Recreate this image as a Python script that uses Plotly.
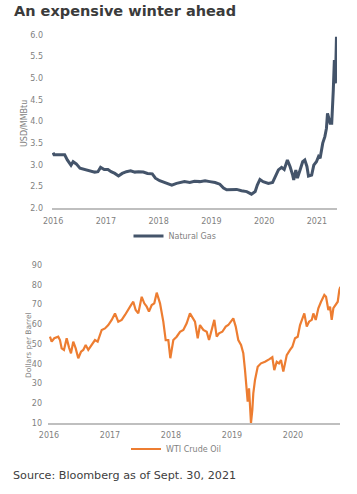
import plotly.graph_objects as go

# ---- Natural gas (USD/MMBtu), x in decimal years as placed on the chart ----
ng_x = [2016.00, 2016.02, 2016.10, 2016.22, 2016.27, 2016.34, 2016.38, 2016.44, 2016.51,
        2016.60, 2016.70, 2016.79, 2016.85, 2016.90, 2016.97, 2017.04, 2017.10, 2017.17,
        2017.24, 2017.31, 2017.39, 2017.47, 2017.55, 2017.62, 2017.71, 2017.79, 2017.88,
        2017.94, 2018.02, 2018.12, 2018.19, 2018.25, 2018.34, 2018.43, 2018.49, 2018.59,
        2018.68, 2018.78, 2018.88, 2018.97, 2019.07, 2019.16, 2019.23, 2019.29, 2019.38,
        2019.48, 2019.57, 2019.67, 2019.76, 2019.83, 2019.87, 2019.92, 2019.98, 2020.08,
        2020.16, 2020.21, 2020.27, 2020.33, 2020.38, 2020.44, 2020.49, 2020.54, 2020.56,
        2020.60, 2020.63, 2020.68, 2020.73, 2020.77, 2020.81, 2020.84, 2020.90, 2020.94,
        2020.99, 2021.03, 2021.06, 2021.11, 2021.15, 2021.18, 2021.20, 2021.25, 2021.28,
        2021.31, 2021.33, 2021.35, 2021.37]
ng_y = [3.28, 3.23, 3.23, 3.23, 3.11, 2.99, 3.07, 3.02, 2.92,
        2.89, 2.86, 2.83, 2.84, 2.94, 2.89, 2.89, 2.84, 2.80,
        2.74, 2.80, 2.84, 2.86, 2.83, 2.84, 2.83, 2.80, 2.79,
        2.69, 2.63, 2.59, 2.55, 2.53, 2.57, 2.59, 2.61, 2.59,
        2.62, 2.61, 2.63, 2.61, 2.59, 2.55, 2.46, 2.42, 2.42,
        2.43, 2.40, 2.38, 2.32, 2.38, 2.53, 2.66, 2.61, 2.57,
        2.59, 2.72, 2.88, 2.94, 2.89, 3.11, 2.96, 2.76, 2.65,
        2.88, 2.69, 2.88, 3.07, 3.11, 2.96, 2.74, 2.76, 2.99,
        3.07, 3.19, 3.15, 3.50, 3.65, 3.84, 4.19, 3.96, 3.96,
        4.73, 5.42, 4.88, 5.96]
ng_ticks = [2016, 2017, 2018, 2019, 2020, 2021]
ng_ticktext = ["2016", "2017", "2018", "2019", "2020", "2021"]
ng_yticks = [2.0, 2.5, 3.0, 3.5, 4.0, 4.5, 5.0, 5.5, 6.0]

# ---- WTI crude oil (Dollars per Barrel) ----
oil_x = [2016.016, 2016.044, 2016.087, 2016.152, 2016.180, 2016.208, 2016.246, 2016.290,
         2016.328, 2016.361, 2016.398, 2016.438, 2016.480, 2016.525, 2016.562, 2016.602,
         2016.644, 2016.700, 2016.754, 2016.798, 2016.864, 2016.918, 2016.972, 2017.028,
         2017.082, 2017.136, 2017.192, 2017.246, 2017.290, 2017.344, 2017.382, 2017.421,
         2017.464, 2017.520, 2017.562, 2017.602, 2017.639, 2017.684, 2017.726, 2017.766,
         2017.820, 2017.874, 2017.913, 2017.956, 2017.989, 2018.038, 2018.093, 2018.148,
         2018.202, 2018.257, 2018.311, 2018.349, 2018.393, 2018.438, 2018.475, 2018.530,
         2018.585, 2018.623, 2018.667, 2018.710, 2018.749, 2018.787, 2018.841, 2018.897,
         2018.939, 2018.984, 2019.021, 2019.061, 2019.103, 2019.148, 2019.185, 2019.213,
         2019.241, 2019.257, 2019.279, 2019.295, 2019.311, 2019.333, 2019.349, 2019.377,
         2019.421, 2019.475, 2019.541, 2019.607, 2019.661, 2019.693, 2019.733, 2019.770,
         2019.803, 2019.841, 2019.897, 2019.951, 2019.989, 2020.033, 2020.077, 2020.115,
         2020.152, 2020.185, 2020.225, 2020.262, 2020.307, 2020.333, 2020.372, 2020.415,
         2020.459, 2020.513, 2020.541, 2020.579, 2020.607, 2020.634, 2020.661, 2020.700,
         2020.733, 2020.759, 2020.775]
oil_y = [53.7, 51.2, 52.9, 53.7, 52.0, 47.8, 47.0, 52.9,
         48.3, 45.3, 51.2, 47.8, 42.8, 46.1, 47.0, 49.5,
         47.0, 49.5, 52.0, 51.2, 57.1, 57.9, 59.6, 62.2,
         65.5, 61.3, 62.2, 64.7, 67.2, 69.7, 71.4, 67.2,
         65.5, 73.9, 70.6, 68.9, 66.4, 69.7, 70.6, 76.0,
         70.6, 61.3, 52.0, 52.0, 42.8, 52.0, 53.7, 56.2,
         57.1, 60.5, 65.5, 63.8, 61.3, 52.9, 59.6, 57.1,
         56.2, 52.0, 57.1, 62.2, 53.7, 55.4, 56.2, 58.8,
         59.6, 61.3, 63.0, 58.8, 52.0, 49.5, 45.3, 36.8,
         28.4, 20.8, 27.6, 20.0, 10.0, 16.6, 25.0, 31.8,
         38.5, 40.2, 41.0, 42.2, 43.3, 36.8, 41.0, 40.2,
         41.9, 36.0, 44.4, 47.0, 48.6, 52.9, 53.7, 59.6,
         63.0, 65.5, 58.8, 61.3, 62.2, 65.5, 62.2, 68.1,
         71.4, 74.8, 73.9, 67.2, 68.9, 62.2, 68.1, 69.7,
         71.4, 77.3, 79.0]
oil_ticks = [2016, 2017, 2018, 2019, 2020]
oil_ticktext = ["2016", "2017", "2018", "2019", "2020"]
oil_yticks = [10, 20, 30, 40, 50, 60, 70, 80, 90]

W, H = 357, 494
FONT = "DejaVu Sans"
TICK_COLOR = "#7f7f7f"
AXIS_COLOR = "#bfbfbf"


def px_x(p):
    return p / W


def px_y(p):
    return (H - p) / H


fig = go.Figure()
fig.add_trace(go.Scatter(x=ng_x, y=ng_y, mode="lines", name="Natural Gas",
                         line=dict(color="#44546a", width=3),
                         xaxis="x", yaxis="y", legend="legend", showlegend=True))
fig.add_trace(go.Scatter(x=oil_x, y=oil_y, mode="lines", name="WTI Crude Oil",
                         line=dict(color="#ed7d31", width=2.2),
                         xaxis="x2", yaxis="y2", legend="legend2", showlegend=True))

tickfont = dict(family=FONT, size=8, color=TICK_COLOR)

fig.update_layout(
    width=W, height=H,
    showlegend=True,
    margin=dict(l=0, r=0, t=0, b=0, autoexpand=False),
    paper_bgcolor="white", plot_bgcolor="white",
    font=dict(family=FONT, color=TICK_COLOR),
    xaxis=dict(domain=[px_x(52), px_x(337)], range=[2015.98, 2021.38],
               tickvals=ng_ticks, ticktext=ng_ticktext, tickfont=tickfont,
               showgrid=False, zeroline=False, showline=True, linecolor=AXIS_COLOR,
               linewidth=1.5, ticks="", ticklabelstandoff=5, anchor="y", automargin=False),
    yaxis=dict(domain=[px_y(208), px_y(35)], range=[2.0, 6.0],
               tickvals=ng_yticks, tickformat=".1f", tickfont=tickfont,
               showgrid=False, zeroline=False, showline=False, ticks="",
               ticklabelstandoff=8, anchor="x", automargin=False),
    xaxis2=dict(domain=[px_x(48), px_x(340)], range=[2015.984, 2020.77],
                tickvals=oil_ticks, ticktext=oil_ticktext, tickfont=tickfont,
                showgrid=False, zeroline=False, showline=True, linecolor=AXIS_COLOR,
                linewidth=1.5, ticks="", ticklabelstandoff=4, anchor="y2", automargin=False),
    yaxis2=dict(domain=[px_y(423), px_y(265)], range=[10, 90],
                tickvals=oil_yticks, tickfont=tickfont,
                showgrid=False, zeroline=False, showline=False, ticks="",
                ticklabelstandoff=5, anchor="x2", automargin=False),
    legend=dict(x=px_x(175), y=px_y(236), xanchor="center", yanchor="middle",
                orientation="h", itemwidth=30, bgcolor="rgba(0,0,0,0)", visible=True,
                font=dict(family=FONT, size=8, color=TICK_COLOR)),
    legend2=dict(x=px_x(176), y=px_y(449), xanchor="center", yanchor="middle",
                 orientation="h", itemwidth=30, bgcolor="rgba(0,0,0,0)", visible=True,
                 font=dict(family=FONT, size=8, color=TICK_COLOR)),
    annotations=[
        dict(text="<b>An expensive winter ahead</b>", xref="paper", yref="paper",
             x=px_x(12), y=px_y(11), xanchor="left", yanchor="middle", showarrow=False,
             font=dict(family=FONT, size=14.5, color="#3b3b3b")),
        dict(text="Source: Bloomberg as of Sept. 30, 2021", xref="paper", yref="paper",
             x=px_x(11), y=px_y(475), xanchor="left", yanchor="middle", showarrow=False,
             font=dict(family=FONT, size=11.2, color="#404040")),
        dict(text="USD/MMBtu", xref="paper", yref="paper", textangle=-90,
             x=px_x(24), y=px_y(124), xanchor="center", yanchor="middle", showarrow=False,
             font=dict(family=FONT, size=8, color=TICK_COLOR)),
        dict(text="Dollars per Barrel", xref="paper", yref="paper", textangle=-90,
             x=px_x(28), y=px_y(345), xanchor="center", yanchor="middle", showarrow=False,
             font=dict(family=FONT, size=7.5, color=TICK_COLOR)),
    ],
)

fig.write_html("out.html", config={"displayModeBar": False},
               post_script="document.body.style.margin='0';")
